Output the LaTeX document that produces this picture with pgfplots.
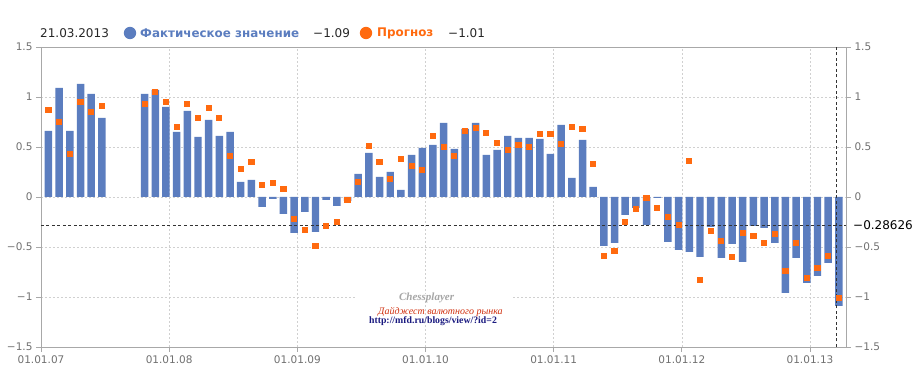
\documentclass[border=0pt]{standalone}
\usepackage{pgfplots}
\pgfplotsset{compat=1.18}
\usepackage{pgfplotstable}
\usepackage{fontspec}
\setmainfont{DejaVu Sans}
\newfontfamily\wmserif{Liberation Serif}
\definecolor{barblue}{HTML}{5B7DBF}
\definecolor{fcorange}{HTML}{FF6A0F}
\definecolor{tickgray}{HTML}{707070}
\definecolor{axgray}{HTML}{A8A8A8}
\definecolor{gridgray}{HTML}{D0D0D0}
\definecolor{wmred}{HTML}{D0300F}
\definecolor{wmblue}{HTML}{1A1A80}

\pgfplotstableread{
m act fc
0 0.66 0.87
1 1.09 0.75
2 0.66 0.43
3 1.13 0.95
4 1.03 0.85
5 0.79 0.91
9 1.03 0.93
10 1.07 1.05
11 0.90 0.95
12 0.65 0.70
13 0.86 0.93
14 0.60 0.79
15 0.77 0.89
16 0.61 0.79
17 0.65 0.41
18 0.15 0.28
19 0.17 0.35
20 -0.10 0.12
21 -0.02 0.14
22 -0.17 0.08
23 -0.36 -0.22
24 -0.15 -0.33
25 -0.35 -0.49
26 -0.03 -0.29
27 -0.09 -0.25
28 -0.04 -0.03
29 0.23 0.15
30 0.44 0.51
31 0.20 0.35
32 0.25 0.18
33 0.07 0.38
34 0.42 0.31
35 0.49 0.27
36 0.52 0.61
37 0.74 0.50
38 0.48 0.41
39 0.68 0.66
40 0.74 0.69
41 0.42 0.64
42 0.47 0.54
43 0.61 0.47
44 0.59 0.52
45 0.59 0.50
46 0.58 0.63
47 0.43 0.63
48 0.72 0.53
49 0.19 0.70
50 0.57 0.68
51 0.10 0.33
52 -0.49 -0.59
53 -0.46 -0.54
54 -0.18 -0.25
55 -0.11 -0.12
56 -0.28 -0.01
57 -0.01 -0.11
58 -0.45 -0.20
59 -0.53 -0.28
60 -0.55 0.36
61 -0.60 -0.83
62 -0.30 -0.34
63 -0.61 -0.44
64 -0.47 -0.60
65 -0.65 -0.36
66 -0.29 -0.39
67 -0.31 -0.46
68 -0.46 -0.37
69 -0.96 -0.74
70 -0.61 -0.46
71 -0.86 -0.81
72 -0.79 -0.71
73 -0.66 -0.59
74 -1.09 -1.01
}\datatable

\begin{document}
\begin{tikzpicture}[x=1pt,y=1pt]
\useasboundingbox (0,0) rectangle (914,386);
% legend / header
\node[anchor=west, inner sep=0pt, font=\fontsize{12}{14}\selectfont, text=black!85] at (40,353) {21.03.2013};
\fill[barblue] (130,353) circle (6.2);
\node[anchor=west, inner sep=0pt, font=\fontsize{11.9}{14}\selectfont\bfseries, text=barblue] at (140,353) {Фактическое значение};
\node[anchor=west, inner sep=0pt, font=\fontsize{12}{14}\selectfont, text=black!85] at (313,353) {−1.09};
\fill[fcorange] (366,353) circle (6.2);
\node[anchor=west, inner sep=0pt, font=\fontsize{11.9}{14}\selectfont\bfseries, text=fcorange] at (377,353) {Прогноз};
\node[anchor=west, inner sep=0pt, font=\fontsize{12}{14}\selectfont, text=black!85] at (448,353) {−1.01};

\begin{axis}[
  at={(41pt,39pt)}, anchor=south west,
  scale only axis, width=805pt, height=300pt,
  xmin=0, xmax=75.37, ymin=-1.5, ymax=1.5,
  xtick={0,12,24,36,48,60,72},
  xticklabels={01.01.07,01.01.08,01.01.09,01.01.10,01.01.11,01.01.12,01.01.13},
  ytick={-1.5,-1,-0.5,0,0.5,1,1.5},
  yticklabels={−1.5,−1,−0.5,0,0.5,1,1.5},
  xtick pos=left, ytick pos=left,
  grid=major,
  major grid style={gridgray, dash pattern=on 2pt off 2pt, line width=0.6pt},
  axis line style={axgray, line width=0.9pt},
  tick style={axgray, line width=0.8pt},
  tick align=outside, major tick length=5pt,
  ticklabel style={font=\fontsize{10.5}{12}\selectfont, text=tickgray},
  clip=false,
]
\fill[white] (axis cs:29.6,-0.97) rectangle (axis cs:44.0,-1.03);
\addplot[ybar, bar width=0.7, bar shift=0pt, fill=barblue, draw=none]
  table[x expr=\thisrow{m}+0.7, y=act]{\datatable};
\addplot[only marks, color=fcorange, mark=square*, mark size=2.6pt, mark options={fill=fcorange, draw=fcorange, line width=0pt}]
  table[x expr=\thisrow{m}+0.7, y=fc]{\datatable};
\draw[black!80, dash pattern=on 3pt off 2.5pt, line width=0.7pt] (axis cs:0,-0.28626) -- (axis cs:75.37,-0.28626);
\draw[black!80, dash pattern=on 3pt off 2.5pt, line width=0.7pt] (axis cs:74.5,-1.5) -- (axis cs:74.5,1.5);
\node[anchor=west, inner sep=0pt, font=\fontsize{12}{14}\selectfont, text=black] at (axis cs:75.37,-0.28626) [xshift=7pt] {−0.28626};
% watermark
\node[inner sep=0pt, font=\wmserif\fontsize{11}{12}\selectfont\bfseries\itshape, text=black!35] at (axis cs:36.1,-1.01) {Chessplayer};
\node[inner sep=0pt, font=\wmserif\fontsize{10}{12}\selectfont\itshape, text=wmred] at (axis cs:37.4,-1.15) {Дайджест валютного рынка};
\node[inner sep=0pt, font=\wmserif\fontsize{9.8}{10}\selectfont\bfseries, text=wmblue] at (axis cs:36.7,-1.24) {http://mfd.ru/blogs/view/?id=2};
\end{axis}

\begin{axis}[
  at={(41pt,39pt)}, anchor=south west,
  scale only axis, width=805pt, height=300pt,
  xmin=0, xmax=75.37, ymin=-1.5, ymax=1.5,
  hide x axis, axis y line*=right,
  ytick={-1.5,-1,-0.5,0,0.5,1,1.5},
  yticklabels={−1.5,−1,−0.5,0,0.5,1,1.5},
  axis line style={axgray, line width=0.9pt},
  tick style={axgray, line width=0.8pt},
  tick align=outside, major tick length=5pt,
  ticklabel style={font=\fontsize{10.5}{12}\selectfont, text=tickgray},
  yticklabel style={anchor=west},
]
\addplot[draw=none] coordinates {(0,0)};
\end{axis}
\end{tikzpicture}
\end{document}
